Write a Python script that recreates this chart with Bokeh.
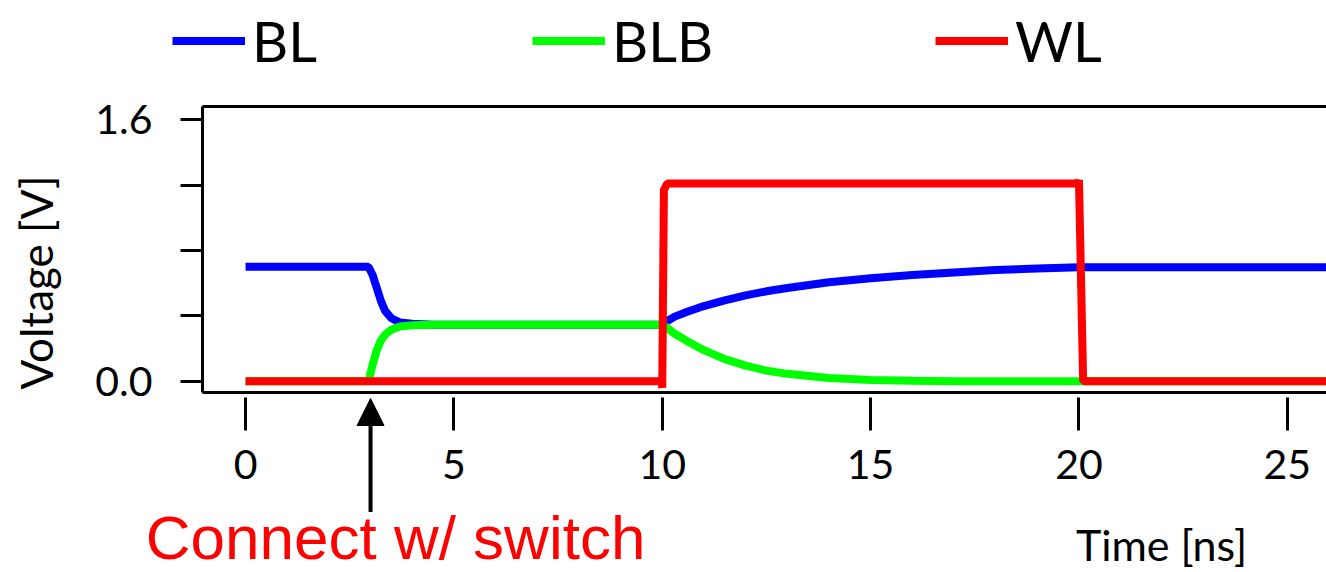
from bokeh.plotting import figure
from bokeh.models import (Range1d, FixedTicker, CustomJSTickFormatter, Label, Arrow,
                          NormalHead, Legend, LegendItem, LinearAxis)
from bokeh.embed import file_html
from bokeh.resources import INLINE

# ---- data ----
t_bit = [0, 2.95, 3.05, 3.15, 3.25, 3.35, 3.5, 3.7, 4.0, 4.5,
         10.0, 10.1, 10.3, 10.6, 11.0, 11.5, 12.0, 12.5, 13.0,
         14.0, 15.0, 16.0, 17.0, 18.0, 19.0, 20.0, 27.0]
bl = [0.70, 0.70, 0.65, 0.57, 0.49, 0.43, 0.385, 0.36, 0.352, 0.345,
      0.345, 0.365, 0.395, 0.425, 0.46, 0.495, 0.525, 0.55, 0.57,
      0.605, 0.63, 0.65, 0.665, 0.68, 0.69, 0.697, 0.697]
blb = [0.0, 0.0, 0.10, 0.19, 0.25, 0.285, 0.315, 0.335, 0.342, 0.345,
       0.345, 0.33, 0.29, 0.245, 0.19, 0.135, 0.095, 0.065, 0.045,
       0.02, 0.008, 0.003, 0.0, 0.0, 0.0, 0.0, 0.0]
t_wl = [0, 9.98, 10.0, 10.04, 10.12, 19.97, 20.0, 20.1, 27.0]
wl = [0.0, 0.0, -0.04, 1.17, 1.21, 1.21, 1.23, 0.0, 0.0]

series_names = ["BL", "BLB", "WL"]
series_colors = ["#0000FF", "#00FF00", "#FF0000"]
x_ticks = [0, 5, 10, 15, 20, 25]
y_ticks = [0.0, 0.4, 0.8, 1.2, 1.6]
x_title = "Time [ns]"
y_title = "Voltage [V]"
note_text = "Connect w/ switch"
note_time = 3.0

FONT = "Lato"

# plot box (data units) and whole-canvas view
box_x0, box_x1 = -1.032, 30.0
box_y0, box_y1 = -0.069, 1.681

W, H = 1326, 572
p = figure(width=W, height=H, output_backend="svg", toolbar_location=None,
           x_range=Range1d(-5.880, 25.94), y_range=Range1d(-1.1705, 2.3294),
           min_border=0, min_border_left=0, min_border_right=0,
           min_border_top=0, min_border_bottom=0)
p.outline_line_color = None
p.xgrid.visible = False
p.ygrid.visible = False
p.background_fill_color = "white"
p.border_fill_color = "white"

# lines
renderers = []
for xs, ys, col in [(t_bit, bl, series_colors[0]), (t_bit, blb, series_colors[1]),
                    (t_wl, wl, series_colors[2])]:
    r = p.line(xs, ys, line_color=col, line_width=8)
    renderers.append(r)

# x axis (bottom edge of the box)
xa = p.xaxis[0]
xa.fixed_location = box_y0
xa.bounds = (box_x0, box_x1)
xa.ticker = FixedTicker(ticks=x_ticks)
xa.minor_tick_line_color = None
xa.major_tick_in = -5
xa.major_tick_out = 38
xa.major_tick_line_width = 3
xa.major_tick_line_color = "black"
xa.axis_line_width = 3
xa.axis_line_color = "black"
xa.major_label_text_font = FONT
xa.major_label_text_font_size = "41px"
xa.major_label_text_color = "black"
xa.major_label_standoff = 20

# y axis (left edge of the box)
ya = p.yaxis[0]
ya.fixed_location = box_x0
ya.bounds = (box_y0, box_y1)
ya.ticker = FixedTicker(ticks=y_ticks)
ya.formatter = CustomJSTickFormatter(
    code="return (Math.abs(tick) < 1e-6 || Math.abs(tick - 1.6) < 1e-6) ? tick.toFixed(1) : '';")
ya.minor_tick_line_color = None
ya.major_tick_in = 0
ya.major_tick_out = 22
ya.major_tick_line_width = 3
ya.major_tick_line_color = "black"
ya.axis_line_width = 3
ya.axis_line_color = "black"
ya.major_label_text_font = FONT
ya.major_label_text_font_size = "41px"
ya.major_label_text_color = "black"
ya.major_label_standoff = 28

# top edge of the box
top = LinearAxis(fixed_location=box_y1, bounds=(box_x0, box_x1),
                 ticker=FixedTicker(ticks=[]), axis_line_width=3, axis_line_color="black",
                 major_tick_line_color=None, minor_tick_line_color=None,
                 major_label_text_color=None)
p.add_layout(top, "above")

# titles
p.add_layout(Label(x=-5.02, y=0.604, text=y_title, angle=1.5707963, text_align="center",
                   text_baseline="middle", text_font=FONT, text_font_size="44px",
                   text_color="black"))
p.add_layout(Label(x=21.98, y=-1.0, text=x_title, text_align="center",
                   text_baseline="middle", text_font=FONT, text_font_size="43px",
                   text_color="black"))

# annotation
p.add_layout(Arrow(end=NormalHead(size=27, fill_color="black", line_color="black"),
                   x_start=note_time, y_start=-0.80, x_end=note_time, y_end=-0.106,
                   line_width=4, line_color="black"))
p.add_layout(Label(x=3.6, y=-0.958, text=note_text, text_align="center",
                   text_baseline="middle", text_font="Liberation Sans",
                   text_font_size="62px", text_color="#FF0000"))

# legends
legend_x = [172, 532, 935]
for name, r, vx in zip(series_names, renderers, legend_x):
    lg = Legend(items=[LegendItem(label=name, renderers=[r])], location=(vx, 498),
                orientation="horizontal", glyph_width=73, glyph_height=67,
                label_height=67, label_standoff=7, padding=0, margin=0, spacing=0,
                border_line_alpha=0, background_fill_alpha=0,
                label_text_font=FONT, label_text_font_size="56px",
                label_text_color="black")
    p.add_layout(lg)

open("out.html", "w").write(file_html(p, INLINE))
